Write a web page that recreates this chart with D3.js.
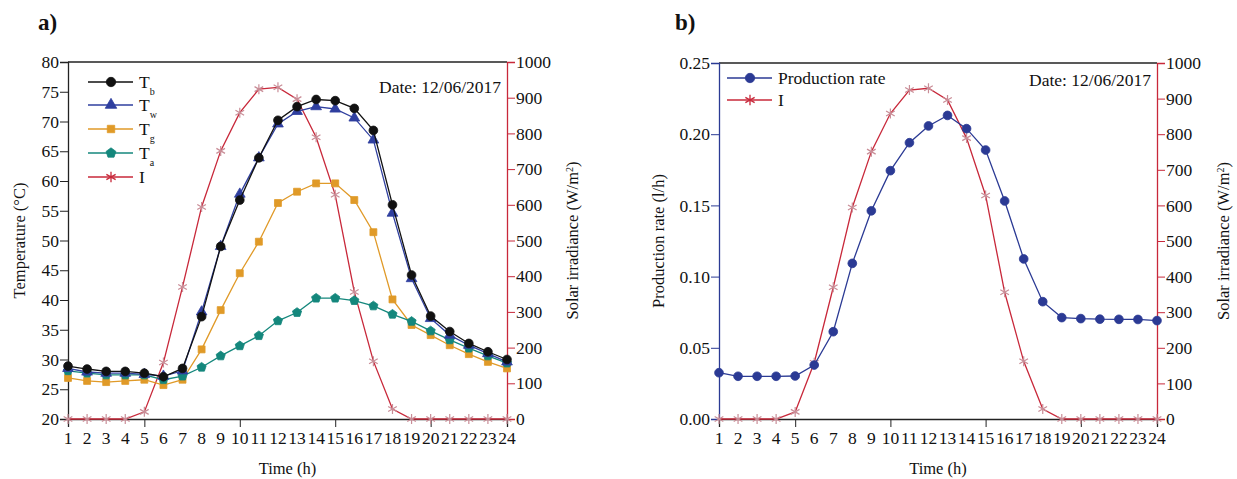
<!DOCTYPE html>
<html>
<head>
<meta charset="utf-8">
<script src="https://cdn.jsdelivr.net/npm/d3@7"></script>
<style>
  body { margin: 0; background: #fff; }
  svg text { font-family: "Liberation Serif", "Times New Roman", serif !important; fill: #111; }
</style>
</head>
<body>
<svg id="chart" width="1237" height="479"></svg>
<script>

/// DATA ////////////////////////////////////////////////////////////////////////////////

var hours = [1, 2, 3, 4, 5, 6, 7, 8, 9, 10, 11, 12, 13, 14, 15, 16, 17, 18, 19, 20, 21, 22, 23, 24];

// temperatures (°C)
var Tb = [28.9, 28.4, 28.0, 28.0, 27.7, 27.1, 28.5, 37.2, 49.0, 56.8, 63.9, 70.2, 72.5, 73.7, 73.5, 72.2, 68.5, 56.0, 44.2, 37.3, 34.7, 32.7, 31.3, 30.0];
var Tw = [28.5, 27.9, 27.7, 27.7, 27.5, 27.2, 28.1, 38.0, 49.0, 57.8, 63.9, 69.6, 71.7, 72.5, 72.1, 70.6, 66.9, 54.6, 43.6, 36.9, 34.1, 32.4, 31.0, 29.6];
var Tg = [26.9, 26.4, 26.2, 26.4, 26.6, 25.7, 26.6, 31.7, 38.3, 44.5, 49.8, 56.3, 58.2, 59.6, 59.6, 56.8, 51.4, 40.1, 35.8, 34.1, 32.4, 30.9, 29.6, 28.5];
var Ta = [28.1, 27.7, 27.4, 27.4, 27.4, 26.6, 27.2, 28.7, 30.6, 32.3, 34.0, 36.5, 37.9, 40.3, 40.3, 39.9, 39.0, 37.6, 36.4, 34.8, 33.3, 31.9, 30.6, 29.4];

// solar irradiance (W/m2)
var irradiance = [0, 0, 0, 0, 20, 158, 370, 594, 751, 858, 924, 929, 896, 789, 628, 356, 162, 28, 0, 0, 0, 0, 0, 0];

// production rate (l/h)
var production = [0.0325, 0.0300, 0.0300, 0.0300, 0.0302, 0.0379, 0.0613, 0.1093, 0.1462, 0.1744, 0.1940, 0.2058, 0.2132, 0.2039, 0.1889, 0.1531, 0.1124, 0.0824, 0.0712, 0.0705, 0.0701, 0.0700, 0.0699, 0.0691];

// tick labels
var tempTicks = [20, 25, 30, 35, 40, 45, 50, 55, 60, 65, 70, 75, 80];
var irrTicks = [0, 100, 200, 300, 400, 500, 600, 700, 800, 900, 1000];
var prodTicks = [0.00, 0.05, 0.10, 0.15, 0.20, 0.25];
var hourMajor = [5, 10, 15, 20];

var dateLabel = 'Date: 12/06/2017';

/////////////////////////////////////////////////////////////////////////////////////////

var RED = '#c8283a';
var STAR = '#c98d97';
var SERIF = '"Liberation Serif", "Times New Roman", serif';
var TICK_FONT = '17.5px';

var svg = d3.select('#chart');

// pentagon marker
var symbolPentagon = {
    draw: function (ctx, size) {
        var r = Math.sqrt(size / 2.378);
        for (var i = 0; i < 5; i++) {
            var a = -Math.PI / 2 + i * 2 * Math.PI / 5;
            if (i === 0) ctx.moveTo(r * Math.cos(a), r * Math.sin(a));
            else ctx.lineTo(r * Math.cos(a), r * Math.sin(a));
        }
        ctx.closePath();
    }
};

function drawMarkers(g, x, y, values, s) {
    var sym = d3.symbol().type(s.type).size(s.size);
    g.selectAll(null)
        .data(values)
        .enter()
        .append('path')
            .attr('transform', function (d, i) { return 'translate(' + x(hours[i]) + ',' + y(d) + ')' })
            .attr('d', sym)
            .attr('fill', s.star ? 'none' : s.color)
            .attr('stroke', s.star ? STAR : s.color)
            .attr('stroke-width', s.star ? 1.2 : 0.8)
}

function drawSeries(g, x, y, values, s) {
    var line = d3.line()
        .x(function (d, i) { return x(hours[i]) })
        .y(function (d) { return y(d) });
    g.append('path')
        .datum(values)
        .attr('d', line)
        .attr('fill', 'none')
        .attr('stroke', s.color)
        .attr('stroke-width', 1.3);
    drawMarkers(g, x, y, values, s);
}

function styleAxis(a, color) {
    a.attr('font-family', SERIF);
    a.select('path.domain').attr('stroke', color).attr('stroke-width', 1.3);
    a.selectAll('line').attr('stroke', color);
    a.selectAll('text').style('font-size', TICK_FONT).style('font-family', SERIF).attr('fill', '#111');
}

function drawPanel(cfg) {
    var x = d3.scaleLinear().domain([1, 24]).range([cfg.left, cfg.right]);
    var y = d3.scaleLinear().domain(cfg.yDomain).range([cfg.bottom, cfg.top]);
    var y2 = d3.scaleLinear().domain([0, 1000]).range([cfg.bottom, cfg.top]);

    var g = svg.append('g');

    // top frame line
    g.append('line')
        .attr('x1', cfg.left).attr('x2', cfg.right)
        .attr('y1', cfg.top).attr('y2', cfg.top)
        .attr('stroke', '#222').attr('stroke-width', 1.3);

    // x axis (minor + major ticks)
    var xAxis = g.append('g').attr('transform', 'translate(0,' + cfg.bottom + ')');
    xAxis.call(d3.axisBottom(x).tickValues(hours).tickSize(4).tickFormat(''));
    xAxis.call(d3.axisBottom(x).tickValues(hourMajor).tickSize(8).tickFormat(''));
    styleAxis(xAxis, '#222');
    g.append('g').selectAll('text')
        .data(hours).enter().append('text')
            .attr('x', function (d) { return x(d) })
            .attr('y', cfg.bottom + 25)
            .attr('text-anchor', 'middle')
            .style('font-size', TICK_FONT)
            .text(function (d) { return d });

    // left axis
    var yAxis = g.append('g').attr('transform', 'translate(' + cfg.left + ',0)');
    yAxis.call(d3.axisLeft(y).tickValues(cfg.minorTicks).tickSize(4).tickFormat(''));
    yAxis.call(d3.axisLeft(y).tickValues(cfg.ticks).tickSize(8).tickPadding(1).tickFormat(cfg.fmt));
    styleAxis(yAxis, cfg.leftColor);

    // right axis (irradiance)
    var rAxis = g.append('g').attr('transform', 'translate(' + cfg.right + ',0)');
    rAxis.call(d3.axisRight(y2).tickValues(d3.range(50, 1000, 100)).tickSize(4).tickFormat(''));
    rAxis.call(d3.axisRight(y2).tickValues(irrTicks).tickSize(8).tickPadding(1).tickFormat(d3.format('d')));
    styleAxis(rAxis, RED);

    // axis titles
    g.append('text')
        .attr('transform', 'translate(' + cfg.yTitleX + ',' + ((cfg.top + cfg.bottom) / 2) + ') rotate(-90)')
        .attr('text-anchor', 'middle')
        .style('font-size', '16.5px')
        .text(cfg.yTitle);

    var rt = g.append('text')
        .attr('transform', 'translate(' + cfg.rTitleX + ',' + ((cfg.top + cfg.bottom) / 2) + ') rotate(-90)')
        .attr('text-anchor', 'middle')
        .style('font-size', '16.5px');
    rt.append('tspan').text('Solar irradiance (W/m');
    rt.append('tspan').attr('baseline-shift', 'super').style('font-size', '10px').text('2');
    rt.append('tspan').text(')');

    g.append('text')
        .attr('x', (cfg.left + cfg.right) / 2)
        .attr('y', cfg.bottom + 55)
        .attr('text-anchor', 'middle')
        .style('font-size', '16.5px')
        .text('Time (h)');

    // panel label
    g.append('text')
        .attr('x', cfg.labelX).attr('y', 30)
        .style('font-size', '23px').style('font-weight', 'bold')
        .text(cfg.label);

    // date
    g.append('text')
        .attr('x', cfg.right - 6).attr('y', cfg.dateY)
        .attr('text-anchor', 'end')
        .style('font-size', '17.5px')
        .text(dateLabel);

    // data
    var dg = g.append('g');
    drawSeries(dg, x, y2, irradiance, cfg.irrStyle);
    cfg.series.forEach(function (s) { drawSeries(dg, x, y, s.values, s) });

    // legend
    var lg = g.append('g');
    cfg.legend.forEach(function (s, i) {
        var ly = cfg.legendY[i];
        lg.append('line')
            .attr('x1', cfg.legendX).attr('x2', cfg.legendX + 45)
            .attr('y1', ly).attr('y2', ly)
            .attr('stroke', s.color).attr('stroke-width', 1.3);
        lg.append('path')
            .attr('transform', 'translate(' + (cfg.legendX + 23) + ',' + ly + ')')
            .attr('d', d3.symbol().type(s.type).size(s.size * 1.15))
            .attr('fill', s.star ? 'none' : s.color)
            .attr('stroke', s.star ? RED : s.color)
            .attr('stroke-width', s.star ? 1.3 : 0.8);
        var t = lg.append('text')
            .attr('x', cfg.legendX + 51).attr('y', ly + 6)
            .style('font-size', '17.5px');
        t.append('tspan').text(s.name);
        if (s.sub) t.append('tspan').attr('dy', 7).style('font-size', '10px').text(s.sub);
    });
}

var irrStyle = { name: 'I', color: RED, type: d3.symbolAsterisk, size: 70, star: true };

var tempSeries = [
    { name: 'T', sub: 'b', values: Tb, color: '#111111', type: d3.symbolCircle, size: 60 },
    { name: 'T', sub: 'w', values: Tw, color: '#2f3f9f', type: d3.symbolTriangle, size: 50 },
    { name: 'T', sub: 'g', values: Tg, color: '#e09a28', type: d3.symbolSquare, size: 48 },
    { name: 'T', sub: 'a', values: Ta, color: '#14877c', type: symbolPentagon, size: 55 }
];

// draw order: Tg, Ta, Tw, Tb so black sits on top
drawPanel({
    left: 68, right: 507, top: 62, bottom: 419,
    yDomain: [20, 80], ticks: tempTicks,
    minorTicks: d3.range(22.5, 80, 5),
    fmt: d3.format('d'),
    leftColor: '#222',
    yTitle: 'Temperature (°C)', yTitleX: 25, rTitleX: 578,
    label: 'a)', labelX: 38, dateY: 93,
    irrStyle: irrStyle,
    series: [tempSeries[2], tempSeries[3], tempSeries[1], tempSeries[0]],
    legend: tempSeries.concat([irrStyle]),
    legendX: 88, legendY: [82, 105, 129, 153, 177]
});

var prodStyle = { name: 'Production rate', values: production, color: '#2b3a94', type: d3.symbolCircle, size: 60 };

drawPanel({
    left: 719, right: 1157, top: 63, bottom: 419,
    yDomain: [0, 0.25], ticks: prodTicks,
    minorTicks: d3.range(0.025, 0.25, 0.05),
    fmt: d3.format('.2f'),
    leftColor: '#2b3a94',
    yTitle: 'Production rate (l/h)', yTitleX: 664, rTitleX: 1229,
    label: 'b)', labelX: 675, dateY: 86,
    irrStyle: irrStyle,
    series: [prodStyle],
    legend: [prodStyle, irrStyle],
    legendX: 727, legendY: [78, 100]
});

</script>
</body>
</html>
